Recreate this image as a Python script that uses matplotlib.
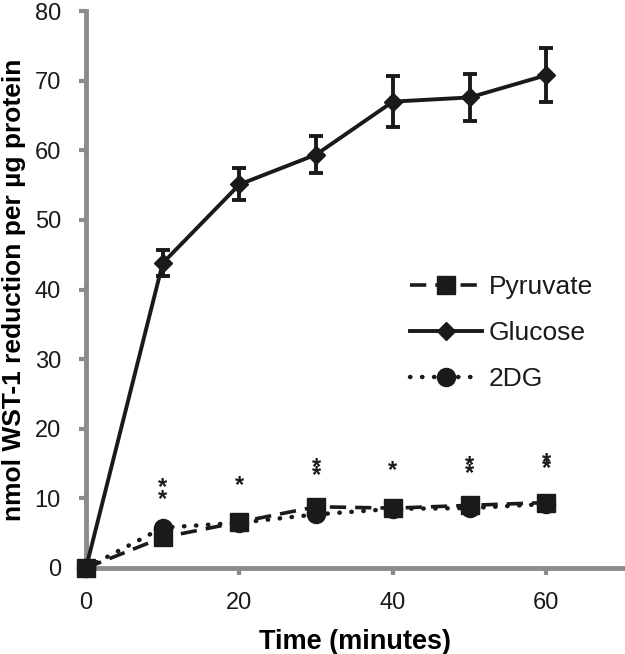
import matplotlib
matplotlib.use("Agg")
import matplotlib.pyplot as plt
from matplotlib.lines import Line2D

plt.rcParams['font.family'] = ['Liberation Sans', 'DejaVu Sans']

time = [0, 10, 20, 30, 40, 50, 60]
glucose = [0, 43.8, 55.1, 59.4, 67.0, 67.6, 70.8]
glucose_err = [0, 1.9, 2.3, 2.6, 3.7, 3.4, 3.9]
pyruvate = [0, 4.4, 6.6, 8.8, 8.6, 9.0, 9.4]
dg2 = [0, 5.8, 6.5, 7.7, 8.5, 8.6, 9.2]
# significance asterisks: x, y of the mark group, text
star_x = [10, 20, 30, 40, 50, 60]
star_y = [11.5, 12.7, 14.6, 14.8, 14.9, 15.5]
star_text = ['*\n*', '*', '*\n*', '*', '*\n*', '*\n*']
star_linespacing = [0.42, 1.0, 0.16, 1.0, 0.16, 0.04]

fig = plt.figure(figsize=(6.25, 6.54), dpi=100)
ax = fig.add_axes([0.1376, 0.1315, 0.8594, 0.8515])

black = '#1a1a1a'
gray = '#8c8c8c'

ax.plot(time, pyruvate, linestyle=(0, (4.5, 2.5)), color=black, lw=2.6,
        marker='s', markersize=13, zorder=5, clip_on=False)
eb = ax.errorbar(time, glucose, yerr=glucose_err, color=black, lw=2.8,
                 marker='D', markersize=9, capsize=5, capthick=2.8, elinewidth=2.8,
                 zorder=4)
eb.lines[0].set_clip_on(False)
ax.plot(time, dg2, linestyle=(0, (0.1, 2.6)), color=black, lw=3.2,
        dash_capstyle='round', marker='o', markersize=13, zorder=3, clip_on=False)

for x, y, t, ls in zip(star_x, star_y, star_text, star_linespacing):
    ax.text(x, y - 0.8, t, ha='center', va='center', fontsize=17,
            fontweight='bold', color=black, linespacing=ls)

ax.set_xlim(0, 70)
ax.set_ylim(0, 80)
ax.set_xticks([0, 20, 40, 60])
ax.set_yticks(range(0, 81, 10))
for s in ['top', 'right']:
    ax.spines[s].set_visible(False)
for s in ['left', 'bottom']:
    ax.spines[s].set_color(gray)
    ax.spines[s].set_linewidth(3.5)
ax.tick_params(axis='both', direction='out', color=gray, width=3, length=5,
               labelsize=17, labelcolor=black)
ax.tick_params(axis='y', pad=13)
ax.tick_params(axis='x', pad=12)
ax.set_xlabel('Time (minutes)', fontsize=19.5, fontweight='bold', labelpad=11)
ax.set_ylabel('nmol WST-1 reduction per µg protein', fontsize=19,
              fontweight='bold')
ax.yaxis.set_label_coords(-0.112, 0.5)

handles = [
    Line2D([], [], linestyle=(0, (4.5, 2.5)), color=black, lw=2.6, marker='s', markersize=13),
    Line2D([], [], color=black, lw=2.8, marker='D', markersize=9),
    Line2D([], [], linestyle=(0, (0.1, 2.6)), color=black, lw=3.2,
           dash_capstyle='round', marker='o', markersize=13),
]
labels = ['Pyruvate', 'Glucose', '2DG']
leg = ax.legend(handles, labels, loc='upper left', bbox_to_anchor=(0.583, 0.545),
                borderaxespad=0, frameon=False, fontsize=19, handlelength=2.75,
                handletextpad=0.25, labelspacing=0.83)
for t in leg.get_texts():
    t.set_color(black)

fig.savefig('out.png', dpi=100)
